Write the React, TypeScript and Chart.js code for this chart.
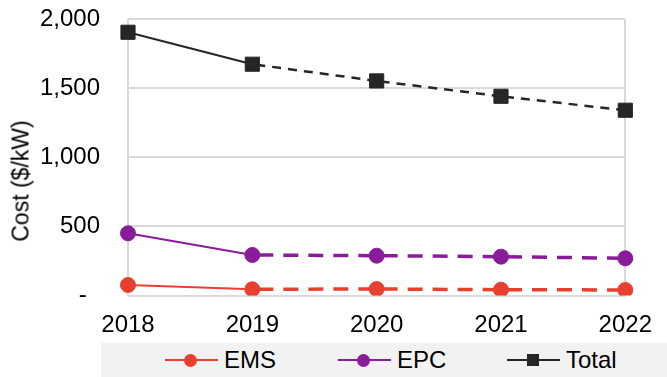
import React, { useEffect, useRef } from "react";
import { Chart, registerables } from "chart.js";

Chart.register(...registerables);

const years = ["2018", "2019", "2020", "2021", "2022"];
const emsValues = [76, 45, 47, 42, 40];
const epcValues = [450, 293, 288, 281, 269];
const totalValues = [1904, 1673, 1552, 1441, 1340];
const yTicks = [0, 500, 1000, 1500, 2000];

const EMS_COLOR = "#E8402F";
const EPC_COLOR = "#8A1C9C";
const TOTAL_COLOR = "#262626";
const FONT = "'Liberation Sans', Arial, sans-serif";

function makeDataset(label: string, data: number[], color: string, style: string, radius: number, solidW: number, dashW: number, dash: number[], dashOffset: number) {
  return {
    label,
    data,
    borderColor: color,
    backgroundColor: color,
    pointStyle: style,
    pointRadius: radius,
    pointBorderWidth: 1,
    pointBorderColor: color,
    pointBackgroundColor: color,
    borderWidth: solidW,
    tension: 0,
    segment: {
      borderDash: (ctx: any) => (ctx.p0DataIndex >= 1 ? dash : undefined),
      borderWidth: (ctx: any) => (ctx.p0DataIndex >= 1 ? dashW : solidW),
      // distinct tiny offsets so each segment restarts its dash pattern
      borderDashOffset: (ctx: any) => (ctx.p0DataIndex >= 1 ? dashOffset + ctx.p0DataIndex * 0.001 : 0),
    },
  };
}

export default function App() {
  const ref = useRef<HTMLCanvasElement>(null);
  useEffect(() => {
    if (!ref.current) return;
    const chart = new Chart(ref.current, {
      type: "line",
      data: {
        labels: years,
        datasets: [
          makeDataset("Total", totalValues, TOTAL_COLOR, "rect", 10, 2, 2.5, [9, 7], -4),
          makeDataset("EPC", epcValues, EPC_COLOR, "circle", 7.5, 2, 3.5, [15, 10], -6),
          makeDataset("EMS", emsValues, EMS_COLOR, "circle", 7.5, 2, 3.5, [15, 10], -6),
        ],
      },
      options: {
        animation: false,
        responsive: false,
        layout: { padding: { left: 0, right: 36, top: 19, bottom: 0 } },
        plugins: { legend: { display: false }, tooltip: { enabled: false } },
        scales: {
          x: {
            type: "category",
            offset: false,
            border: { display: false },
            grid: {
              drawTicks: false,
              lineWidth: 2,
              color: (ctx: any) => (ctx.index === 0 || ctx.index === years.length - 1 ? "#D9D9D9" : "rgba(0,0,0,0)"),
            },
            ticks: { font: { family: FONT, size: 24 }, color: "#000", padding: 15, maxRotation: 0 },
            afterFit: (scale: any) => {
              scale.height = 81.5;
              scale.paddingTop = 0;
              scale.paddingBottom = 0;
            },
          },
          y: {
            min: 0,
            max: 2000,
            border: { display: false },
            grid: { drawTicks: false, lineWidth: 2, color: "#D9D9D9" },
            afterBuildTicks: (scale: any) => { scale.ticks = yTicks.map((v) => ({ value: v })); },
            ticks: {
              font: { family: FONT, size: 24 },
              color: "#000",
              padding: 28,
              callback: (v: any) => (Number(v) === 0 ? "-  " : Number(v).toLocaleString("en-US")),
            },
            afterFit: (scale: any) => {
              scale.width = 128;
              scale.paddingTop = 0;
              scale.paddingBottom = 0;
            },
          },
        },
      },
    });
    return () => chart.destroy();
  }, []);

  const legendText: React.CSSProperties = {
    position: "absolute",
    top: 0,
    height: 34,
    lineHeight: "34px",
    fontFamily: FONT,
    fontSize: 24,
    color: "#000",
  };
  const line = (left: number, color: string): React.CSSProperties => ({
    position: "absolute",
    left,
    top: 16,
    width: 53,
    height: 2,
    background: color,
  });

  return (
    <div style={{ position: "fixed", left: 0, top: 0, width: 667, height: 377, background: "#fff" }}>
      <canvas ref={ref} width={667} height={377} style={{ position: "absolute", left: 0, top: 0 }} />
      <div
        style={{
          position: "absolute",
          left: 21,
          top: 181,
          transform: "translate(-50%, -50%) rotate(-90deg)",
          whiteSpace: "nowrap",
          fontFamily: FONT,
          fontSize: 23,
          color: "#000",
        }}
      >
        Cost ($/kW)
      </div>
      <div style={{ position: "absolute", left: 101, top: 343, width: 566, height: 34, background: "#F2F2F2" }}>
        <div style={line(64, EMS_COLOR)} />
        <div style={{ position: "absolute", left: 89 - 6.5, top: 17 - 6.5, width: 13, height: 13, borderRadius: "50%", background: EMS_COLOR }} />
        <div style={{ ...legendText, left: 123 }}>EMS</div>
        <div style={line(237, EPC_COLOR)} />
        <div style={{ position: "absolute", left: 262 - 6.5, top: 17 - 6.5, width: 13, height: 13, borderRadius: "50%", background: EPC_COLOR }} />
        <div style={{ ...legendText, left: 296 }}>EPC</div>
        <div style={line(406, TOTAL_COLOR)} />
        <div style={{ position: "absolute", left: 432 - 6, top: 17 - 6, width: 12, height: 12, background: TOTAL_COLOR }} />
        <div style={{ ...legendText, left: 465 }}>Total</div>
      </div>
    </div>
  );
}
